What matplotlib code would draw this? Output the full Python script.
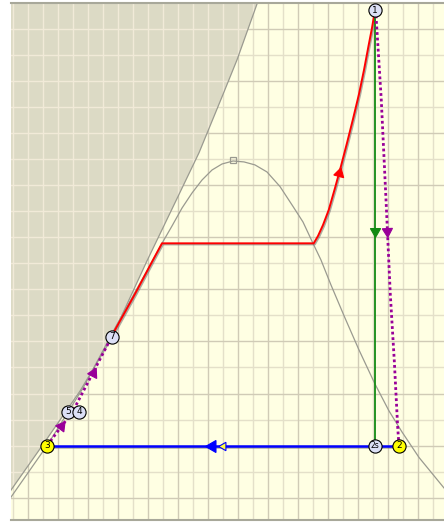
import numpy as np
import matplotlib
matplotlib.use("Agg")
import matplotlib.pyplot as plt
from matplotlib.patches import Polygon
import matplotlib.patheffects as pe

# ---- saturation dome (entropy s, temperature T) ----
s_dome = [0.117, 0.217, 0.817, 1.417, 1.95, 2.583, 2.733, 2.9, 3.067, 3.233, 3.4, 3.567, 3.733,
          3.917, 4.1, 4.283, 4.483, 4.7, 4.917, 5.083, 5.25, 5.383, 5.55, 5.783, 6.017, 6.283,
          6.517, 6.733, 7.017, 7.433, 7.7]
T_dome = [14.4, 20.5, 60.0, 104.2, 150.3, 202.5, 215.3, 228.6, 242.4, 253.9, 263.9, 271.6, 276.2,
          278.5, 277.8, 275.5, 270.1, 258.9, 243.6, 231.7, 215.3, 202.5, 183.3, 158.0, 133.4, 107.3,
          86.6, 70.5, 50.9, 27.5, 14.4]
s_crit, T_crit = 3.917, 278.5

# ---- inaccessible region boundary ----
s_limit = [-0.19, 0.217, 0.733, 1.367, 1.867, 2.483, 2.917, 3.35, 3.733, 3.983, 4.317, 4.40]
T_limit = [-5.0, 25.9, 59.7, 101.9, 140.3, 201.8, 243.3, 284.8, 327.7, 356.1, 399.1, 410.0]

# ---- cycle processes ----
# 7 -> 1 : boiler heating, evaporation, superheating
s_heat = [1.895, 1.95, 2.283, 2.583, 2.733, 5.262, 5.333, 5.417, 5.512, 5.617, 5.717, 5.817,
          5.917, 6.017, 6.1, 6.175, 6.233, 6.283]
T_heat = [143.6, 148.8, 176.4, 202.5, 215.3, 215.3, 220.9, 229.4, 240.9, 257.8, 274.7, 292.4,
          310.8, 330.0, 348.4, 366.8, 380.6, 394.4]
# 1 -> 2s : isentropic expansion
s_isen = [6.283, 6.283]
T_isen = [394.4, 60.0]
# 1 -> 2 : actual expansion
s_exp = [6.283, 6.3, 6.388, 6.467, 6.538, 6.605, 6.662, 6.683]
T_exp = [394.4, 390.5, 325.3, 248.5, 176.4, 125.0, 73.7, 60.0]
# 2 -> 3 : condensation
s_cond = [6.683, 0.817]
T_cond = [60.0, 60.0]
# 3 -> 7 : pumping and feed-water heating
s_feed = [0.817, 1.25, 1.895]
T_feed = [60.0, 86.6, 143.6]

# ---- state points ----
state_labels = ["1", "2s", "2", "3", "5", "4", "7"]
state_s = [6.283, 6.283, 6.683, 0.817, 1.172, 1.35, 1.895]
state_T = [394.4, 60.0, 60.0, 60.0, 86.0, 86.0, 143.6]
state_fill = ["#DCE0F6", "#DCE0F6", "#FFFF00", "#FFFF00", "#DCE0F6", "#DCE0F6", "#DCE0F6"]

BG = "#FFFFE3"
SHADE = "#DCDAC5"
GRID_MAJOR = "#D0CBB6"
GRID_MINOR = "#E4E0C9"
GRID_SHADE = "#F1EAD8"
DOME = "#9A9A90"
RED = "#FF0000"
GREEN = "#138A13"
PURPLE = "#990099"
BLUE = "#0000FF"

fig = plt.figure(figsize=(4.44, 5.22), dpi=100)
fig.patch.set_facecolor("white")
ax = fig.add_axes([11 / 444, 2 / 522, 433 / 444, 517 / 522])
ax.set_facecolor(BG)
ax.set_xlim(0.2167, 7.4333)
ax.set_ylim(2.9, 399.8)

x_minor = np.arange(0.25, 7.5, 0.5)
x_major = np.arange(0.5, 7.5, 0.5)
y_minor = np.arange(40, 400, 40)
y_major = np.arange(20, 400, 40)

for x in x_minor:
    ax.axvline(x, color=GRID_MINOR, lw=1.0, zorder=0.5)
for y in y_minor:
    ax.axhline(y, color=GRID_MINOR, lw=1.0, zorder=0.5)
for x in x_major:
    ax.axvline(x, color=GRID_MAJOR, lw=1.0, zorder=0.6)
for y in y_major:
    ax.axhline(y, color=GRID_MAJOR, lw=1.0, zorder=0.6)

# shaded region left of the limit line
poly_pts = list(zip(s_limit, T_limit)) + [(-2.0, 410.0), (-2.0, -5.0)]
shade = Polygon(poly_pts, closed=True, facecolor=SHADE, edgecolor="none", zorder=1)
ax.add_patch(shade)
for x in np.concatenate([x_minor, x_major]):
    l = ax.axvline(x, color=GRID_SHADE, lw=1.0, zorder=1.1)
    l.set_clip_path(shade)
for y in np.concatenate([y_minor, y_major]):
    l = ax.axhline(y, color=GRID_SHADE, lw=1.0, zorder=1.1)
    l.set_clip_path(shade)
ax.plot(s_limit, T_limit, color=DOME, lw=0.9, zorder=1.2)

# dome and critical point
ax.plot(s_dome, T_dome, color=DOME, lw=0.9, zorder=2)
ax.plot([s_crit], [T_crit + 1.0], marker="s", ms=4.5, mfc="none", mec=DOME, mew=0.9, zorder=2)

shadow = [pe.SimpleLineShadow(offset=(0.8, -0.8), shadow_color="#777777", alpha=0.6), pe.Normal()]

ax.plot(s_heat, T_heat, color=RED, lw=1.4, zorder=3, path_effects=shadow)
ax.plot(s_isen, T_isen, color=GREEN, lw=1.3, zorder=3)
ax.plot(s_exp, T_exp, color=PURPLE, lw=2.0, ls=(0, (1, 1)), zorder=3)
ax.plot(s_feed, T_feed, color=PURPLE, lw=2.0, ls=(0, (1, 1)), zorder=3)
ax.plot(s_cond, T_cond, color=BLUE, lw=1.8, zorder=3, path_effects=shadow)

fig.canvas.draw()


def arrow_at(sx, ty, frac, color, ms=8, edge=None, shift=0.0):
    """Triangle marker pointing along the polyline (sx, ty) at fraction frac of its length."""
    pts = ax.transData.transform(np.column_stack([sx, ty]))
    seg = np.diff(pts, axis=0)
    lens = np.hypot(seg[:, 0], seg[:, 1])
    cum = np.concatenate([[0], np.cumsum(lens)])
    d = frac * cum[-1] + shift
    i = min(np.searchsorted(cum, d) - 1, len(lens) - 1)
    i = max(i, 0)
    t = (d - cum[i]) / lens[i]
    p = pts[i] + t * seg[i]
    ang = np.degrees(np.arctan2(seg[i, 1], seg[i, 0]))
    ds, dT = ax.transData.inverted().transform(p)
    ax.plot([ds], [dT], marker=(3, 0, ang - 90), ms=ms, color=color,
            mec=edge if edge else color, mew=0.8, zorder=4, ls="none")


arrow_at(s_heat, T_heat, 0.665, RED, ms=8.5)
arrow_at(s_isen, T_isen, 0.507, GREEN, ms=8.5)
arrow_at(s_exp, T_exp, 0.507, PURPLE, ms=8.5)
arrow_at(s_feed, T_feed, 0.19, PURPLE, ms=8.5)
arrow_at(s_feed, T_feed, 0.68, PURPLE, ms=8.5)
arrow_at(s_cond, T_cond, 0.5, "#FFFF40", ms=7, edge=BLUE)
arrow_at(s_cond, T_cond, 0.5, BLUE, ms=10, shift=11)

for lab, sv, tv, fc in zip(state_labels, state_s, state_T, state_fill):
    ax.plot([sv], [tv], marker="o", ms=9.5, mfc=fc, mec="black", mew=0.8, zorder=5)
    ax.text(sv, tv, lab, ha="center", va="center", fontsize=6.5 if len(lab) == 1 else 5.5,
            family="DejaVu Sans", zorder=6)

ax.set_xticks([])
ax.set_yticks([])
for side in ("left", "right"):
    ax.spines[side].set_visible(False)
for side in ("top", "bottom"):
    ax.spines[side].set_color("#A8A89A")
    ax.spines[side].set_linewidth(1.5)

fig.savefig("out.png", dpi=100)
